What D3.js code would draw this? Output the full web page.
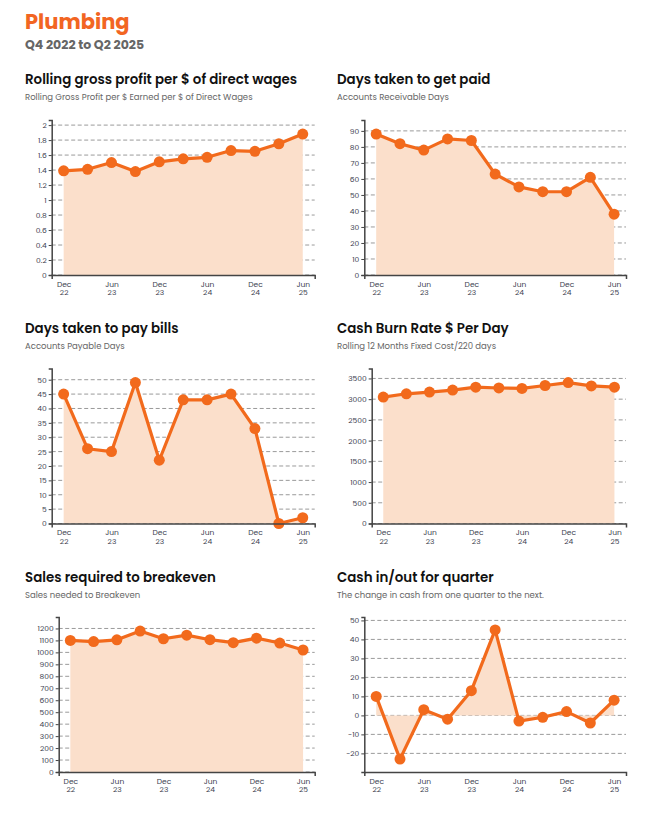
<html>
  <head>
    <meta charset="utf-8" />
    <script src="https://d3js.org/d3.v7.min.js"></script>
    <style>
      body { margin: 0; background: #fff; }
      text { font-family: Poppins, Inter, "Noto Sans", sans-serif; }
    </style>
  </head>
  <body>
    <div id="page"></div>
    <script>
      // quarters shown on every chart (Q4 2022 to Q2 2025)
      const quarters = ["Dec 22", "Mar 23", "Jun 23", "Sep 23", "Dec 23", "Mar 24",
                        "Jun 24", "Sep 24", "Dec 24", "Mar 25", "Jun 25"];
      // only every second quarter gets a label
      const labelledQuarters = ["Dec 22", "Jun 23", "Dec 23", "Jun 24", "Dec 24", "Jun 25"];

      const grossProfit = [1.39, 1.41, 1.50, 1.38, 1.51, 1.55, 1.57, 1.66, 1.65, 1.75, 1.88];
      const debtorDays = [88, 82, 78, 85, 84, 63, 55, 52, 52, 61, 38];
      const creditorDays = [45, 26, 25, 49, 22, 43, 43, 45, 33, 0, 2];
      const burnRate = [3050, 3130, 3170, 3220, 3290, 3270, 3260, 3330, 3400, 3320, 3290];
      const breakeven = [1100, 1090, 1105, 1178, 1114, 1144, 1106, 1081, 1119, 1078, 1020];
      const cashInOut = [10, -23, 3, -2, 13, 45, -3, -1, 2, -4, 8];

      const charts = [
        { title: "Rolling gross profit per $ of direct wages",
          sub: "Rolling Gross Profit per $ Earned per $ of Direct Wages", values: grossProfit },
        { title: "Days taken to get paid", sub: "Accounts Receivable Days", values: debtorDays },
        { title: "Days taken to pay bills", sub: "Accounts Payable Days", values: creditorDays },
        { title: "Cash Burn Rate $ Per Day", sub: "Rolling 12 Months Fixed Cost/220 days", values: burnRate },
        { title: "Sales required to breakeven", sub: "Sales needed to Breakeven", values: breakeven },
        { title: "Cash in/out for quarter", sub: "The change in cash from one quarter to the next.", values: cashInOut }
      ];

      const orange = "#f26a1c";
      const peach = "#fbdfcb";
      const inkAxis = "#3d4250";

      const svg = d3.select("#page").append("svg")
        .attr("width", 648).attr("height", 822);

      svg.append("text").attr("x", 25).attr("y", 28.5)
        .attr("font-size", 21).attr("font-weight", 700).attr("fill", "#f26522")
        .text("Plumbing");
      svg.append("text").attr("x", 25).attr("y", 48.5)
        .attr("font-size", 12.5).attr("font-weight", 700).attr("fill", "#666")
        .text("Q4 2022 to Q2 2025");

      const colX = [25, 337];
      const colRight = [314.7, 626];
      const axisX = [51.7, 364.3, 51.7, 371.7, 58.7, 364.3]; // leaves room for tick labels
      const rowTop = [120, 368.5, 617];
      const plotH = 155;

      // 1.0 -> "1", 3500 -> "3500", -20 -> "-20"
      const fmt = d => String(+d.toFixed(2));

      charts.forEach(function (c, i) {
        const col = i % 2, row = Math.floor(i / 2);
        const g = svg.append("g");
        const titleY = 84 + row * 249;

        g.append("text").attr("x", colX[col]).attr("y", titleY)
          .attr("font-size", 13.4).attr("font-weight", 600).attr("fill", "#111")
          .text(c.title);
        g.append("text").attr("x", colX[col]).attr("y", titleY + 15.5)
          .attr("font-size", 8.5).attr("fill", "#666")
          .text(c.sub);

        const top = rowTop[row], bottom = top + plotH;

        const lo = Math.min(0, d3.min(c.values));
        const hi = d3.max(c.values);
        const pad = (hi - lo) * 0.1;
        const y = d3.scaleLinear()
          .domain([lo < 0 ? lo - pad : 0, hi + pad])
          .range([bottom, top]);

        const x = d3.scalePoint().domain(quarters)
          .range([axisX[i], colRight[col]]).padding(0.5);

        // dashed grid
        g.append("g").selectAll("line").data(y.ticks(10)).join("line")
          .attr("x1", axisX[i]).attr("x2", colRight[col])
          .attr("y1", d => y(d)).attr("y2", d => y(d))
          .attr("stroke", "#9a9a9a").attr("stroke-width", 1)
          .attr("stroke-dasharray", "4,2.5");

        const area = d3.area()
          .x((d, j) => x(quarters[j]))
          .y0(y(0))
          .y1(d => y(d));
        g.append("path").datum(c.values)
          .attr("d", area).attr("fill", peach);

        const line = d3.line()
          .x((d, j) => x(quarters[j]))
          .y(d => y(d));
        g.append("path").datum(c.values)
          .attr("d", line).attr("fill", "none")
          .attr("stroke", orange).attr("stroke-width", 3.2)
          .attr("stroke-linejoin", "round");

        g.append("g").selectAll("circle").data(c.values).join("circle")
          .attr("cx", (d, j) => x(quarters[j]))
          .attr("cy", d => y(d))
          .attr("r", 5.5)
          .attr("fill", orange);

        // y axis
        const yAxis = g.append("g")
          .attr("transform", "translate(" + axisX[i] + ",0)")
          .call(d3.axisLeft(y).ticks(10).tickFormat(fmt).tickSize(3).tickSizeOuter(3).tickPadding(2));
        // x axis
        const xAxis = g.append("g")
          .attr("transform", "translate(0," + bottom + ")")
          .call(d3.axisBottom(x).tickValues(labelledQuarters).tickSize(0).tickSizeOuter(4).tickFormat(""));

        yAxis.selectAll("text").attr("font-family", "Poppins, Inter, sans-serif")
          .attr("font-size", 7.5).attr("fill", inkAxis);
        [yAxis, xAxis].forEach(function (a) {
          a.select(".domain").attr("stroke", "#444").attr("stroke-width", 1.5);
          a.selectAll(".tick line").attr("stroke", "#444");
        });

        // two-line quarter labels, one text per line
        xAxis.selectAll(".tick").each(function (d) {
          const parts = d.split(" ");
          const tick = d3.select(this);
          tick.select("text").remove();
          parts.forEach(function (p, k) {
            tick.append("text").attr("x", 0).attr("y", 11.5 + k * 8.5)
              .attr("text-anchor", "middle")
              .attr("font-family", "Poppins, Inter, sans-serif")
              .attr("font-size", 7.5).attr("fill", inkAxis)
              .text(p);
          });
        });
      });
    </script>
  </body>
</html>
